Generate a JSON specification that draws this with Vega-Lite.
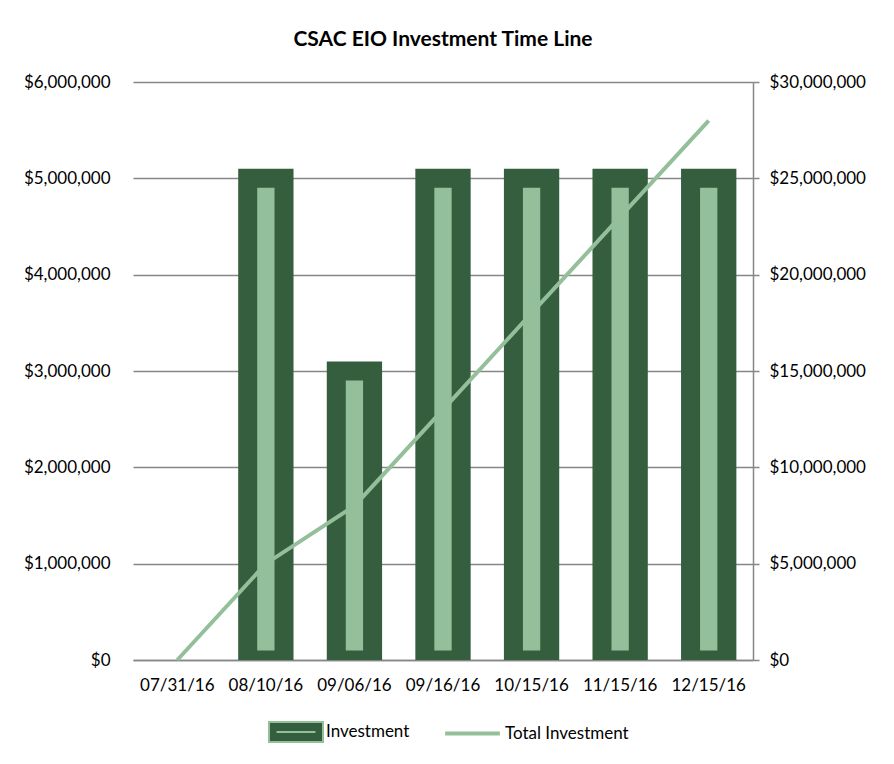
{
  "$schema": "https://vega.github.io/schema/vega-lite/v6.json",
  "autosize": "none",
  "width": 620,
  "height": 578,
  "padding": {"left": 133, "top": 82, "right": 141, "bottom": 104},
  "background": "white",
  "title": {
    "text": "CSAC EIO Investment Time Line",
    "font": "Lato",
    "fontSize": 21,
    "fontWeight": "bold",
    "color": "#000000",
    "anchor": "middle",
    "offset": 23
  },
  "config": {
    "view": {"stroke": null},
    "font": "Lato",
    "axis": {"labelFont": "Lato", "labelFontSize": 17, "labelColor": "#000000", "titleFont": "Lato"},
    "legend": {"labelFont": "Lato", "labelFontSize": 17, "labelColor": "#000000"}
  },
  "data": {
    "values": [
      {"date": "07/31/16", "Investment": 0, "Total": 0},
      {"date": "08/10/16", "Investment": 5000000, "Total": 5000000},
      {"date": "09/06/16", "Investment": 3000000, "Total": 8000000},
      {"date": "09/16/16", "Investment": 5000000, "Total": 13000000},
      {"date": "10/15/16", "Investment": 5000000, "Total": 18000000},
      {"date": "11/15/16", "Investment": 5000000, "Total": 23000000},
      {"date": "12/15/16", "Investment": 5000000, "Total": 28000000}
    ]
  },
  "encoding": {
    "x": {
      "field": "date",
      "type": "ordinal",
      "sort": ["07/31/16", "08/10/16", "09/06/16", "09/16/16", "10/15/16", "11/15/16", "12/15/16"],
      "scale": {"paddingInner": 0.59, "paddingOuter": 0.295},
      "axis": {
        "title": null,
        "labelAngle": 0,
        "ticks": false,
        "domainColor": "#868686",
        "domainWidth": 1.5,
        "labelPadding": 17
      }
    }
  },
  "layer": [
    {
      "transform": [{"filter": "datum.Investment > 0"}],
      "mark": {
        "type": "bar",
        "clip": true,
        "stroke": "#93C09A",
        "strokeWidth": 2
      },
      "encoding": {
        "y": {
          "field": "Investment",
          "type": "quantitative",
          "scale": {"domain": [0, 6000000], "nice": false},
          "axis": {
            "title": null,
            "orient": "left",
            "values": [0, 1000000, 2000000, 3000000, 4000000, 5000000, 6000000],
            "format": "$,.0f",
            "domain": false,
            "ticks": false,
            "labelPadding": 23,
            "grid": true,
            "gridColor": "#868686",
            "gridWidth": 1.5
          }
        },
        "fill": {
          "datum": "Investment",
          "scale": {"domain": ["Investment"], "range": ["#355E3F"]},
          "legend": {
            "title": null,
            "orient": "none",
            "legendX": 135,
            "legendY": 622,
            "symbolType": "M-1,-0.37H1V0.37H-1Z M-0.72,0H0.72",
            "symbolSize": 2916,
            "symbolStrokeWidth": 2,
            "symbolOpacity": 1,
            "labelOffset": 2
          }
        }
      }
    },
    {
      "transform": [{"filter": "datum.Investment > 0"}],
      "mark": {
        "type": "bar",
        "clip": true,
        "fill": "#93C09A",
        "stroke": "#355E3F",
        "strokeWidth": 19,
        "strokeJoin": "miter",
        "opacity": 1
      },
      "encoding": {
        "y": {
          "field": "Investment",
          "type": "quantitative",
          "scale": {"domain": [0, 6000000], "nice": false},
          "axis": null
        }
      }
    },
    {
      "mark": {"type": "line", "strokeWidth": 4},
      "encoding": {
        "y": {
          "field": "Total",
          "type": "quantitative",
          "scale": {"domain": [0, 30000000], "nice": false},
          "axis": {
            "title": null,
            "orient": "right",
            "values": [0, 5000000, 10000000, 15000000, 20000000, 25000000, 30000000],
            "format": "$,.0f",
            "domain": true,
            "domainColor": "#868686",
            "domainWidth": 1.5,
            "ticks": true,
            "tickColor": "#868686",
            "tickWidth": 1.5,
            "tickSize": 6,
            "labelPadding": 10,
            "grid": false
          }
        },
        "stroke": {
          "datum": "Total Investment",
          "scale": {"domain": ["Total Investment"], "range": ["#93C09A"]},
          "legend": {
            "title": null,
            "orient": "none",
            "legendX": 310,
            "legendY": 622,
            "symbolType": "stroke",
            "symbolSize": 3000,
            "symbolStrokeWidth": 4,
            "labelOffset": 3
          }
        }
      }
    }
  ],
  "resolve": {"scale": {"y": "independent"}}
}
